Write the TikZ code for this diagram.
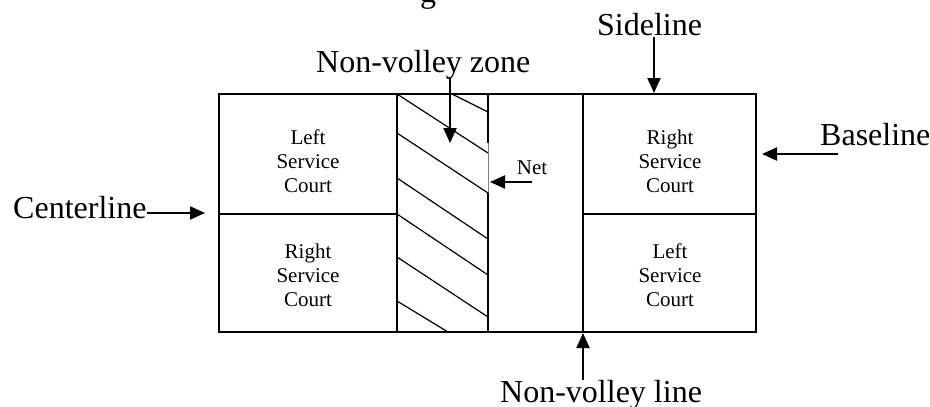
\documentclass[tikz,border=0pt]{standalone}
\usepackage{fontspec}
\setmainfont{Liberation Serif}
\usetikzlibrary{arrows.meta}
\begin{document}
\begin{tikzpicture}[x=1pt,y=-1pt,
  court/.style={line width=1.5pt},
  hatch/.style={line width=1.2pt},
  big/.style={font=\fontsize{32}{36}\selectfont, inner sep=0pt},
  small/.style={font=\fontsize{21}{24}\selectfont, align=center, inner sep=0pt},
  pointer/.style={line width=2pt, -{Triangle[length=15pt,width=13pt]}}]
\useasboundingbox (0,0) rectangle (930,407);
% court outline and lines
\draw[court] (219,94) rectangle (756,332);
\draw[court] (397,94) -- (397,332);
\draw[court] (583,94) -- (583,332);
\draw[court] (219,214) -- (397,214);
\draw[court] (583,214) -- (756,214);
% net
\draw[court] (488,94) -- (488,143);
\draw[gray, line width=0.8pt] (488,143) -- (488,193);
\draw[court] (488,193) -- (488,332);
% hatching of the non-volley zone
\draw[hatch] (452,94) -- (488,112);
\draw[hatch] (397,94) -- (488,153);
\draw[hatch] (397,133) -- (488,193);
\draw[hatch] (397,178) -- (488,239);
\draw[hatch] (397,214) -- (488,275);
\draw[hatch] (397,257) -- (488,317);
\draw[hatch] (397,301) -- (448,332);
% service courts
\node[small] (lsc1) at (308,161) {Left\\Service\\Court};
\node[small] (rsc1) at (308,275) {Right\\Service\\Court};
\node[small] (rsc2) at (670,161) {Right\\Service\\Court};
\node[small] (lsc2) at (670,275) {Left\\Service\\Court};
% cut-off text at the top
\node[big, anchor=base] (frag) at (428,2) {g};
% labels and pointers
\node[big, anchor=base west] (cl) at (13,218) {Centerline};
\coordinate (clt) at (205,213);
\draw[pointer] (cl.east |- clt) -- (clt);

\node[big, anchor=base west] (sl) at (597,35) {Sideline};
\coordinate (slt) at (654,93);
\draw[pointer] ([yshift=-2pt]sl.base -| slt) -- (slt);

\node[big, anchor=base west] (nvz) at (316,72) {Non-volley zone};
\coordinate (nvzt) at (450,143);
\draw[pointer] ([yshift=-5pt]nvz.base -| nvzt) -- (nvzt);

\node[big, anchor=base west] (bl) at (820,145) {Baseline};
\coordinate (blt) at (762,154);
\draw[pointer] ([xshift=18pt]bl.base west |- blt) -- (blt);

\node[small, anchor=base] (net) at (532,174) {Net};
\coordinate (nett) at (490,182);
\draw[pointer] ([yshift=-8pt]net.base) -- (nett);

\node[big, anchor=base west] (nvl) at (500,402) {Non-volley line};
\coordinate (nvlt) at (583,333);
\draw[pointer] (nvl.north -| nvlt) -- (nvlt);
\end{tikzpicture}
\end{document}
